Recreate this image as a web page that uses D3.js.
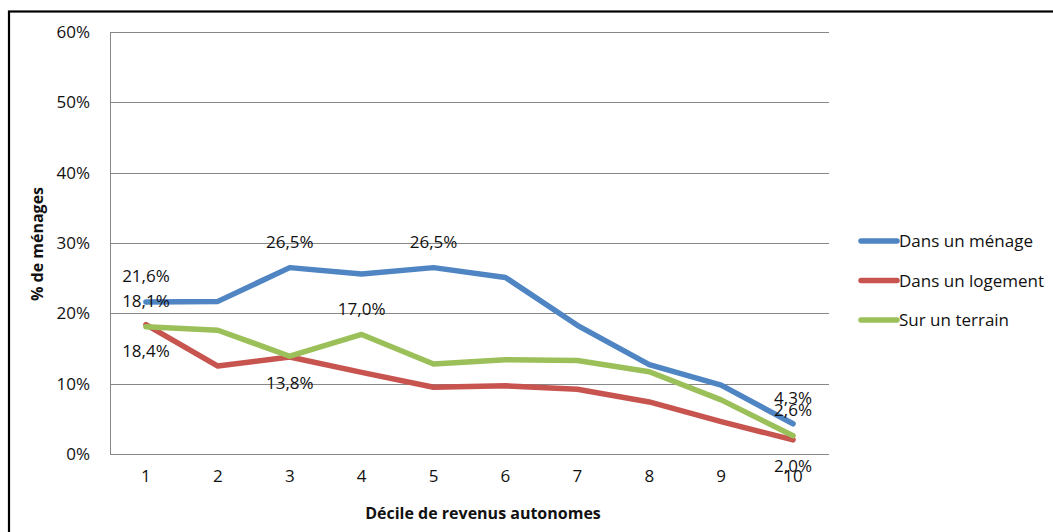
<!DOCTYPE html>
<meta charset="utf-8">
<title>Déciles de revenus</title>
<body>
<script src="https://cdn.jsdelivr.net/npm/d3@7"></script>
<style>
html, body {
    margin: 0;
    background: #fff;
}
svg {
    display: block;
    font-family: "Open Sans", sans-serif;
}
</style>
<script>
var width = 1053,
    height = 532;

// deciles and series values (%)
var deciles = ["1", "2", "3", "4", "5", "6", "7", "8", "9", "10"];
var menage = [21.6, 21.7, 26.5, 25.6, 26.5, 25.1, 18.3, 12.7, 9.8, 4.3];
var logement = [18.4, 12.5, 13.8, 11.6, 9.5, 9.7, 9.2, 7.4, 4.6, 2.0];
var terrain = [18.1, 17.6, 13.9, 17.0, 12.8, 13.4, 13.3, 11.7, 7.7, 2.6];
var seriesNames = ["Dans un ménage", "Dans un logement", "Sur un terrain"];
var yTicks = [0, 10, 20, 30, 40, 50, 60];

// which points carry a data label (index), and on which side
var labelled = [[0, 2, 4, 9], [0, 2, 9], [0, 3, 9]];
var labelSide = [-1, 1, -1];

var colors = ["#4f85c3", "#c8544f", "#9bc05a"];
var series = [menage, logement, terrain];

var margin = {left: 110, right: 224, top: 32, bottom: 78};

var x = d3.scaleBand()
    .domain(deciles)
    .range([margin.left, width - margin.right]);

var y = d3.scaleLinear()
    .domain([0, 60])
    .range([height - margin.bottom, margin.top]);

var svg = d3.select("body").append("svg")
    .attr("width", width)
    .attr("height", height);

// outer frame
svg.append("rect")
    .attr("x", 9)
    .attr("y", 11.5)
    .attr("width", width + 20)
    .attr("height", height + 20)
    .attr("fill", "none")
    .attr("stroke", "#000")
    .attr("stroke-width", 2.2);

// grid
svg.append("g")
    .selectAll("line")
    .data(yTicks)
    .enter().append("line")
    .attr("x1", margin.left)
    .attr("x2", width - margin.right)
    .attr("y1", function(d) { return Math.round(y(d)) + 0.5; })
    .attr("y2", function(d) { return Math.round(y(d)) + 0.5; })
    .attr("stroke", "#878787")
    .attr("stroke-width", 1);

svg.append("line")
    .attr("x1", margin.left + 0.5)
    .attr("x2", margin.left + 0.5)
    .attr("y1", y(60))
    .attr("y2", y(0))
    .attr("stroke", "#878787");

// y tick labels
svg.append("g")
    .selectAll("text")
    .data(yTicks)
    .enter().append("text")
    .attr("x", 90)
    .attr("y", function(d) { return y(d); })
    .attr("dy", "0.36em")
    .attr("text-anchor", "end")
    .attr("font-size", 17)
    .attr("fill", "#111")
    .text(function(d) { return d + "%"; });

// x tick labels
svg.append("g")
    .selectAll("text")
    .data(deciles)
    .enter().append("text")
    .attr("x", function(d) { return x(d) + x.bandwidth() / 2; })
    .attr("y", 482)
    .attr("text-anchor", "middle")
    .attr("font-size", 17)
    .attr("fill", "#111")
    .text(function(d) { return d; });

// axis titles
svg.append("text")
    .attr("x", 483)
    .attr("y", 519)
    .attr("text-anchor", "middle")
    .attr("font-size", 16)
    .attr("font-weight", "bold")
    .attr("fill", "#111")
    .text("Décile de revenus autonomes");

svg.append("text")
    .attr("transform", "translate(43,244) rotate(-90)")
    .attr("text-anchor", "middle")
    .attr("font-size", 16)
    .attr("font-weight", "bold")
    .attr("fill", "#111")
    .text("% de ménages");

var line = d3.line()
    .x(function(d, i) { return x(deciles[i]) + x.bandwidth() / 2; })
    .y(function(d) { return y(d); });

svg.append("g")
    .selectAll("path")
    .data(series)
    .enter().append("path")
    .attr("d", line)
    .attr("fill", "none")
    .attr("stroke", function(d, i) { return colors[i]; })
    .attr("stroke-width", 5.5)
    .attr("stroke-linejoin", "round")
    .attr("stroke-linecap", "round");

// data labels
series.forEach(function(s, k) {
    svg.append("g")
        .selectAll("text")
        .data(labelled[k])
        .enter().append("text")
        .attr("x", function(i) { return x(deciles[i]) + x.bandwidth() / 2; })
        .attr("y", function(i) { return y(s[i]) + labelSide[k] * 26; })
        .attr("dy", "0.36em")
        .attr("text-anchor", "middle")
        .attr("font-size", 17)
        .attr("fill", "#111")
        .text(function(i) { return d3.format(".1f")(s[i]).replace(".", ",") + "%"; });
});

// legend
var legend = svg.append("g")
    .selectAll("g")
    .data(seriesNames)
    .enter().append("g")
    .attr("transform", function(d, i) { return "translate(861," + (241 + i * 39.5) + ")"; });

legend.append("line")
    .attr("x1", 0)
    .attr("x2", 36)
    .attr("stroke", function(d, i) { return colors[i]; })
    .attr("stroke-width", 5.5)
    .attr("stroke-linecap", "round");

legend.append("text")
    .attr("x", 38)
    .attr("dy", "0.36em")
    .attr("font-size", 17)
    .attr("fill", "#111")
    .text(function(d) { return d; });
</script>
